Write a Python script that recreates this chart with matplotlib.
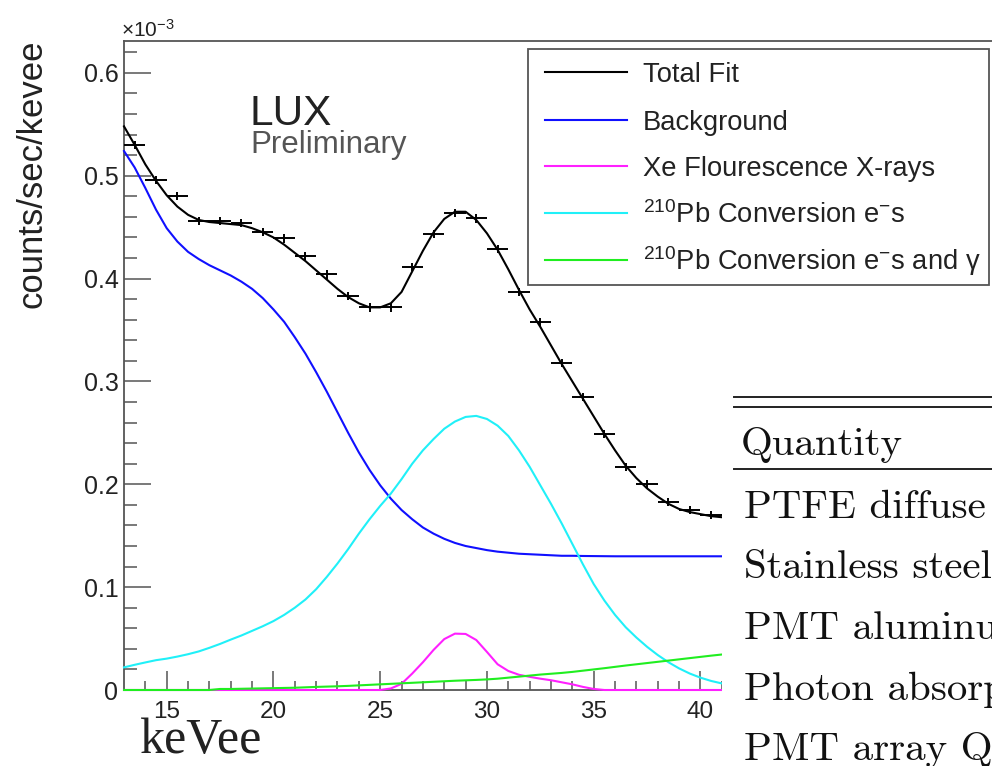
import numpy as np
import matplotlib
matplotlib.use("Agg")
import matplotlib.pyplot as plt
from matplotlib.patches import Rectangle
from matplotlib.lines import Line2D
from matplotlib.ticker import MultipleLocator, FixedLocator, FuncFormatter

plt.rcParams['font.family'] = ['Liberation Sans', 'DejaVu Sans']
plt.rcParams['mathtext.fontset'] = 'custom'
plt.rcParams['mathtext.rm'] = 'Liberation Sans'
plt.rcParams['mathtext.it'] = 'Liberation Sans:italic'
plt.rcParams['mathtext.bf'] = 'Liberation Sans:bold'

# ---------------- data (rates in units of 1e-3 counts/sec/keVee) ----------------
bin_centres = np.arange(13.5, 40.51, 1.0)
measured = [0.530, 0.496, 0.480, 0.456, 0.456, 0.454, 0.445, 0.439, 0.422, 0.404,
            0.383, 0.372, 0.372, 0.4115, 0.443, 0.464, 0.4585, 0.429, 0.387, 0.358,
            0.318, 0.2845, 0.249, 0.217, 0.200, 0.183, 0.175, 0.170]
measured_err = 0.004

energy = np.arange(13.0, 41.51, 0.5)
total_fit = [0.548, 0.530, 0.511, 0.495, 0.481, 0.470, 0.462, 0.457, 0.455, 0.454,
             0.453, 0.452, 0.449, 0.445, 0.440, 0.433, 0.425, 0.417, 0.408, 0.399,
             0.390, 0.382, 0.376, 0.372, 0.372, 0.376, 0.387, 0.407, 0.427, 0.445,
             0.458, 0.465, 0.465, 0.457, 0.444, 0.428, 0.409, 0.389, 0.370, 0.353,
             0.335, 0.317, 0.300, 0.283, 0.266, 0.249, 0.233, 0.218, 0.206, 0.196,
             0.188, 0.181, 0.176, 0.173, 0.171, 0.169, 0.168, 0.167]
background = [0.524, 0.508, 0.488, 0.467, 0.449, 0.436, 0.426, 0.419, 0.413, 0.408,
              0.403, 0.397, 0.390, 0.381, 0.370, 0.358, 0.343, 0.327, 0.309, 0.290,
              0.270, 0.250, 0.231, 0.214, 0.199, 0.186, 0.175, 0.166, 0.158, 0.152,
              0.147, 0.143, 0.140, 0.138, 0.136, 0.1345, 0.1335, 0.1325, 0.132, 0.1315,
              0.131, 0.1305, 0.1305, 0.1303, 0.1302, 0.1301, 0.130, 0.130, 0.130, 0.130,
              0.130, 0.130, 0.130, 0.130, 0.130, 0.130, 0.130, 0.130]
xe_xrays = [0.0, 0.0, 0.0, 0.0, 0.0, 0.0, 0.0, 0.0, 0.0, 0.0,
            0.0, 0.0, 0.0, 0.0, 0.0, 0.0, 0.0, 0.0, 0.0, 0.0,
            0.0, 0.0, 0.0, 0.0, 0.0, 0.0015, 0.006, 0.016, 0.027, 0.039,
            0.0495, 0.0548, 0.0545, 0.0486, 0.037, 0.025, 0.0185, 0.0148, 0.0128, 0.011,
            0.0095, 0.0075, 0.0055, 0.003, 0.001, 0.0, 0.0, 0.0, 0.0, 0.0,
            0.0, 0.0, 0.0, 0.0, 0.0, 0.0, 0.0, 0.0]
pb_conv_e = [0.022, 0.0245, 0.0268, 0.029, 0.0305, 0.0325, 0.0348, 0.0375, 0.041, 0.0448,
             0.049, 0.053, 0.0575, 0.062, 0.067, 0.073, 0.080, 0.088, 0.098, 0.110,
             0.123, 0.137, 0.152, 0.166, 0.179, 0.191, 0.205, 0.220, 0.233, 0.244,
             0.254, 0.261, 0.2655, 0.2665, 0.2635, 0.257, 0.247, 0.233, 0.217, 0.199,
             0.181, 0.162, 0.142, 0.122, 0.103, 0.087, 0.073, 0.061, 0.051, 0.042,
             0.034, 0.027, 0.021, 0.016, 0.012, 0.0088, 0.0064, 0.0046]
pb_conv_e_gamma = [0.0, 0.0, 0.0, 0.0, 0.0, 0.0, 0.0, 0.0, 0.0, 0.001,
                   0.001, 0.0012, 0.0014, 0.0016, 0.0018, 0.002, 0.0022, 0.0026, 0.003, 0.0033,
                   0.0036, 0.004, 0.0045, 0.005, 0.0055, 0.006, 0.0065, 0.007, 0.0075, 0.008,
                   0.0085, 0.009, 0.0094, 0.0098, 0.0103, 0.011, 0.012, 0.013, 0.014, 0.015,
                   0.0158, 0.0166, 0.0176, 0.0188, 0.020, 0.0212, 0.0225, 0.0238, 0.025, 0.0262,
                   0.0274, 0.0286, 0.0298, 0.031, 0.0322, 0.0334, 0.0345, 0.0355]

legend_labels = ["Total Fit", "Background", "Xe Flourescence X-rays",
                 r"$^{210}$Pb Conversion e$^{-}$s",
                 r"$^{210}$Pb Conversion e$^{-}$s and γ"]
x_ticks = [15, 20, 25, 30, 35, 40]
y_ticks = [0.0, 0.1, 0.2, 0.3, 0.4, 0.5, 0.6]

table_header = "Quantity"
table_rows = ["PTFE diffuse", "Stainless steel", "PMT aluminu",
              "Photon absorp", "PMT array Q"]

# ---------------- figure ----------------
W, H = 992, 766
fig = plt.figure(figsize=(W / 100, H / 100), dpi=100)
fig.patch.set_facecolor("white")


def fx(px):
    return px / W


def fy(py):
    return 1 - py / H


px_per_kev = 21.35
ax = fig.add_axes([fx(124), fy(690), (1000 - 124) / W, (690 - 41) / H])
ax.set_xlim(13, 13 + (1000 - 124) / px_per_kev)
ax.set_ylim(0, 0.631)

frame_col = "#555555"
for side in ("left", "bottom", "top"):
    ax.spines[side].set_color(frame_col)
    ax.spines[side].set_linewidth(1.3)
ax.spines["right"].set_visible(False)

ax.xaxis.set_major_locator(FixedLocator(x_ticks))
ax.xaxis.set_minor_locator(FixedLocator(list(range(14, 42))))
ax.yaxis.set_major_locator(FixedLocator(y_ticks))
ax.yaxis.set_minor_locator(MultipleLocator(0.02))
ax.yaxis.set_major_formatter(FuncFormatter(lambda v, _: "0" if abs(v) < 1e-9 else f"{v:.1f}"))
ax.xaxis.set_major_formatter(FuncFormatter(lambda v, _: f"{v:g}"))

ax.tick_params(axis="x", which="major", direction="in", length=13.5, width=1.1,
               color=frame_col, labelsize=17.5, pad=8, labelcolor="#222222")
ax.tick_params(axis="x", which="minor", direction="in", length=6.5, width=1.1, color=frame_col)
ax.tick_params(axis="y", which="major", direction="in", length=19.5, width=1.1,
               color=frame_col, labelsize=18, pad=4, labelcolor="#222222")
ax.tick_params(axis="y", which="minor", direction="in", length=9.5, width=1.1, color=frame_col)

# measured spectrum
ax.errorbar(bin_centres, measured, xerr=0.5, yerr=measured_err, fmt="none",
            ecolor="black", elinewidth=1.4, capsize=0, zorder=3)

# fit components
lw = 1.5
curves = [
    (total_fit, "black"),
    (background, "#1010ff"),
    (xe_xrays, "#ff20ff"),
    (pb_conv_e, "#20f0f8"),
    (pb_conv_e_gamma, "#20ee20"),
]
handles = []
for i, (vals, col) in enumerate(curves):
    h, = ax.plot(energy, vals, color=col, lw=lw, zorder=4 + 0.1 * i, clip_on=False)
    handles.append(h)

# legend box (ROOT style)
box_l, box_t, box_r, box_b = 528, 49, 989, 285
fig.add_artist(Rectangle((fx(box_l), fy(box_b)), fx(box_r) - fx(box_l), fy(box_t) - fy(box_b),
                         transform=fig.transFigure, facecolor="white",
                         edgecolor=frame_col, lw=1.3, zorder=8))
row_y = [72, 120, 166, 213, 260]
for h, lab, ypx in zip(handles, legend_labels, row_y):
    fig.add_artist(Line2D([fx(545), fx(627)], [fy(ypx), fy(ypx)], transform=fig.transFigure,
                          color=h.get_color(), lw=lw, zorder=9))
    fig.text(fx(643), fy(ypx + 10), lab, fontsize=19.7, color="#222222",
             ha="left", va="baseline", zorder=9)

# axis annotations
fig.text(fx(121), fy(37), r"×10$^{-3}$", fontsize=15, color="#222222", ha="left", va="baseline")
fig.text(fx(32), fy(40), "counts/sec/kevee", fontsize=25, color="#222222",
         rotation=90, ha="center", va="top")
fig.text(fx(249), fy(125), "LUX", fontsize=30.5, color="#222222", ha="left", va="baseline")
fig.text(fx(250), fy(153), "Preliminary", fontsize=22.5, color="#555555", ha="left", va="baseline")
fig.text(fx(140), fy(764), "keVee", fontsize=36, family="Liberation Serif",
         color="#222222", ha="left", va="bottom")

# table panel on the right
fig.add_artist(Rectangle((fx(722), 0), 1 - fx(722), fy(292), transform=fig.transFigure,
                         facecolor="white", edgecolor="none", zorder=10))
for ypx in (397, 407, 469):
    fig.add_artist(Line2D([fx(734), 1.0], [fy(ypx), fy(ypx)], transform=fig.transFigure,
                          color="#222222", lw=1.4, zorder=11))
fig.text(fx(741), fy(455), table_header, fontsize=29.5, family="cmr10",
         color="#111111", ha="left", va="baseline", zorder=12)
for i, row in enumerate(table_rows):
    fig.text(fx(744), fy(518 + 60.5 * i), row, fontsize=29.5, family="cmr10",
             color="#111111", ha="left", va="baseline", zorder=12)

fig.savefig("out.png", dpi=100)
